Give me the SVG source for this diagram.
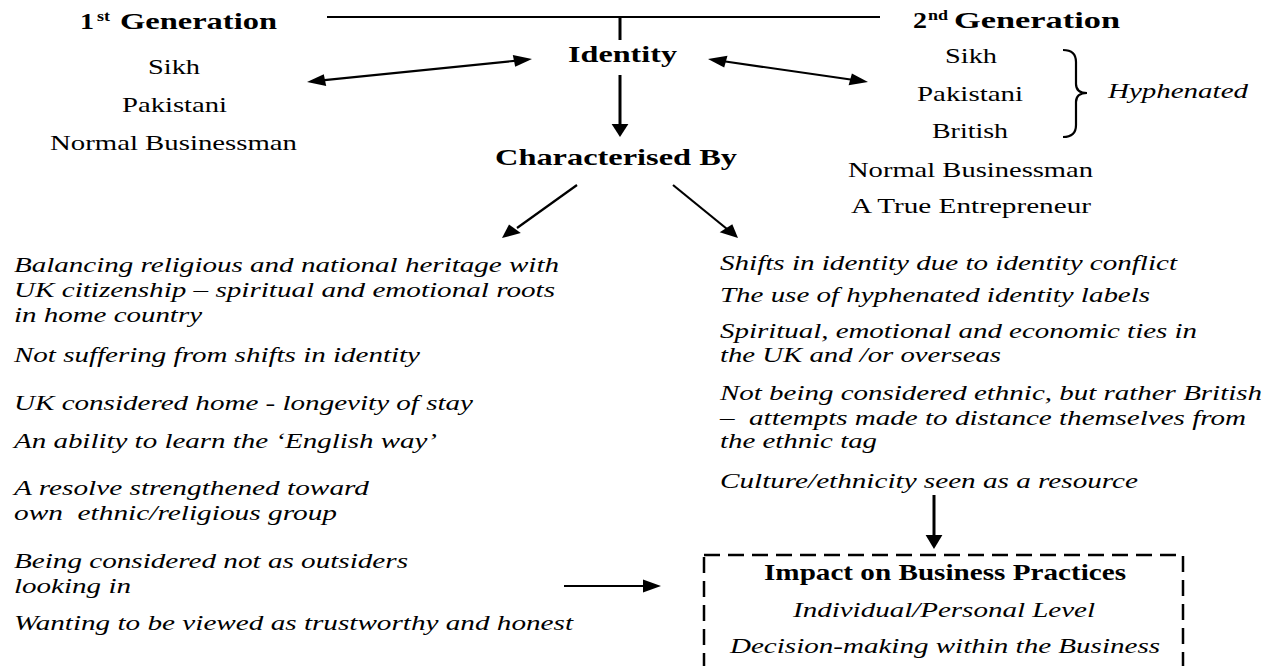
<svg xmlns="http://www.w3.org/2000/svg" width="1280" height="666" viewBox="0 0 1280 666">
<style>
text{font-family:"Liberation Serif","Times New Roman",serif;fill:#000}
.b{font-weight:bold;font-size:23px}
.r{font-size:21px}
.i{font-style:italic;font-size:22px}
.sup{font-weight:bold;font-size:14px}
.ln{stroke:#000;stroke-width:2.2;fill:none}
.v{stroke:#000;stroke-width:3;fill:none}
.ah{fill:#000;stroke:none}
</style>
<rect width="1280" height="666" fill="#fff"/>
<g id="connectors">
<line class="ln" x1="327" y1="17" x2="880" y2="17"/>
<line class="v" x1="620" y1="17" x2="620" y2="40"/>
<line class="ln" x1="322" y1="80.4" x2="517" y2="60.6"/>
<polygon class="ah" points="307,82 326.2,86.1 323.8,74.2"/>
<polygon class="ah" points="532,59 512.8,54.9 515.2,66.8"/>
<line class="ln" x1="722" y1="61" x2="854" y2="80"/>
<polygon class="ah" points="708,59 724.2,67.4 727.5,55.7"/>
<polygon class="ah" points="868,82 851.9,73.6 848.6,85.3"/>
<line class="v" x1="620" y1="75" x2="620" y2="126"/>
<polygon class="ah" points="620,137 611.6,124 628.4,124"/>
<line class="ln" x1="577" y1="185" x2="517" y2="228"/>
<polygon class="ah" points="502,238 520.8,233.1 509,224.6"/>
<line class="ln" x1="673" y1="185" x2="727" y2="229"/>
<polygon class="ah" points="738,238 719.7,232.2 732.3,224.3"/>
<line class="v" x1="934" y1="495" x2="934" y2="537"/>
<polygon class="ah" points="934,549 925.6,535 942.4,535"/>
<line class="ln" x1="564" y1="586" x2="645" y2="586" stroke-width="3"/>
<polygon class="ah" points="661,586 643,579.5 643,592.5"/>
<path class="ln" d="M1063,50 Q1076,50 1076,62 L1076,84 Q1076,93 1087,93 Q1076,93 1076,102 L1076,125 Q1076,137 1063,137"/>
</g>
<g id="gen1">
<text class="b" x="80" y="29" textLength="14" lengthAdjust="spacingAndGlyphs">1</text>
<text class="sup" x="97" y="21" textLength="13" lengthAdjust="spacingAndGlyphs">st</text>
<text class="b" x="120" y="29" textLength="157" lengthAdjust="spacingAndGlyphs">Generation</text>
<text class="r" x="148" y="74" textLength="52" lengthAdjust="spacingAndGlyphs">Sikh</text>
<text class="r" x="122" y="112" textLength="105" lengthAdjust="spacingAndGlyphs">Pakistani</text>
<text class="r" x="50" y="150" textLength="247" lengthAdjust="spacingAndGlyphs">Normal Businessman</text>
</g>
<g id="identity">
<text class="b" x="568" y="62" textLength="109" lengthAdjust="spacingAndGlyphs">Identity</text>
</g>
<g id="gen2">
<text class="b" x="913" y="28" textLength="14" lengthAdjust="spacingAndGlyphs">2</text>
<text class="sup" x="928" y="20" textLength="20" lengthAdjust="spacingAndGlyphs">nd</text>
<text class="b" x="954" y="28" textLength="166" lengthAdjust="spacingAndGlyphs">Generation</text>
<text class="r" x="945" y="63" textLength="52" lengthAdjust="spacingAndGlyphs">Sikh</text>
<text class="r" x="917" y="101" textLength="106" lengthAdjust="spacingAndGlyphs">Pakistani</text>
<text class="r" x="932" y="138" textLength="76" lengthAdjust="spacingAndGlyphs">British</text>
<text class="r" x="848" y="177" textLength="245" lengthAdjust="spacingAndGlyphs">Normal Businessman</text>
<text class="r" x="851" y="213" textLength="240" lengthAdjust="spacingAndGlyphs">A True Entrepreneur</text>
<text class="i" x="1108" y="98" textLength="140" lengthAdjust="spacingAndGlyphs">Hyphenated</text>
</g>
<g id="characterised">
<text class="b" x="495" y="165" textLength="242" lengthAdjust="spacingAndGlyphs">Characterised By</text>
</g>
<g id="first-traits">
<text class="i" x="14" y="272" textLength="545" lengthAdjust="spacingAndGlyphs">Balancing religious and national heritage with</text>
<text class="i" x="14" y="297" textLength="541" lengthAdjust="spacingAndGlyphs">UK citizenship – spiritual and emotional roots</text>
<text class="i" x="14" y="322" textLength="188" lengthAdjust="spacingAndGlyphs">in home country</text>
<text class="i" x="14" y="362" textLength="406" lengthAdjust="spacingAndGlyphs">Not suffering from shifts in identity</text>
<text class="i" x="14" y="410" textLength="459" lengthAdjust="spacingAndGlyphs">UK considered home - longevity of stay</text>
<text class="i" x="14" y="448" textLength="423" lengthAdjust="spacingAndGlyphs">An ability to learn the ‘English way’</text>
<text class="i" x="14" y="495" textLength="355" lengthAdjust="spacingAndGlyphs">A resolve strengthened toward</text>
<text class="i" x="14" y="520" textLength="323" lengthAdjust="spacingAndGlyphs" xml:space="preserve">own  ethnic/religious group</text>
<text class="i" x="14" y="568" textLength="394" lengthAdjust="spacingAndGlyphs">Being considered not as outsiders</text>
<text class="i" x="14" y="593" textLength="117" lengthAdjust="spacingAndGlyphs">looking in</text>
<text class="i" x="14" y="630" textLength="559" lengthAdjust="spacingAndGlyphs">Wanting to be viewed as trustworthy and honest</text>
</g>
<g id="second-traits">
<text class="i" x="720" y="270" textLength="457" lengthAdjust="spacingAndGlyphs">Shifts in identity due to identity conflict</text>
<text class="i" x="720" y="302" textLength="430" lengthAdjust="spacingAndGlyphs">The use of hyphenated identity labels</text>
<text class="i" x="720" y="338" textLength="477" lengthAdjust="spacingAndGlyphs">Spiritual, emotional and economic ties in</text>
<text class="i" x="720" y="362" textLength="281" lengthAdjust="spacingAndGlyphs">the UK and /or overseas</text>
<text class="i" x="720" y="400" textLength="542" lengthAdjust="spacingAndGlyphs">Not being considered ethnic, but rather British</text>
<text class="i" x="720" y="425" textLength="526" lengthAdjust="spacingAndGlyphs" xml:space="preserve">–  attempts made to distance themselves from</text>
<text class="i" x="720" y="448" textLength="157" lengthAdjust="spacingAndGlyphs">the ethnic tag</text>
<text class="i" x="720" y="488" textLength="418" lengthAdjust="spacingAndGlyphs">Culture/ethnicity seen as a resource</text>
</g>
<g id="impact">
<rect x="704" y="555" width="479" height="130" fill="none" stroke="#000" stroke-width="2.5" stroke-dasharray="16 8"/>
<text class="b" x="764" y="580" textLength="362" lengthAdjust="spacingAndGlyphs">Impact on Business Practices</text>
<text class="i" x="793" y="617" textLength="302" lengthAdjust="spacingAndGlyphs">Individual/Personal Level</text>
<text class="i" x="730" y="653" textLength="430" lengthAdjust="spacingAndGlyphs">Decision-making within the Business</text>
</g>
</svg>
